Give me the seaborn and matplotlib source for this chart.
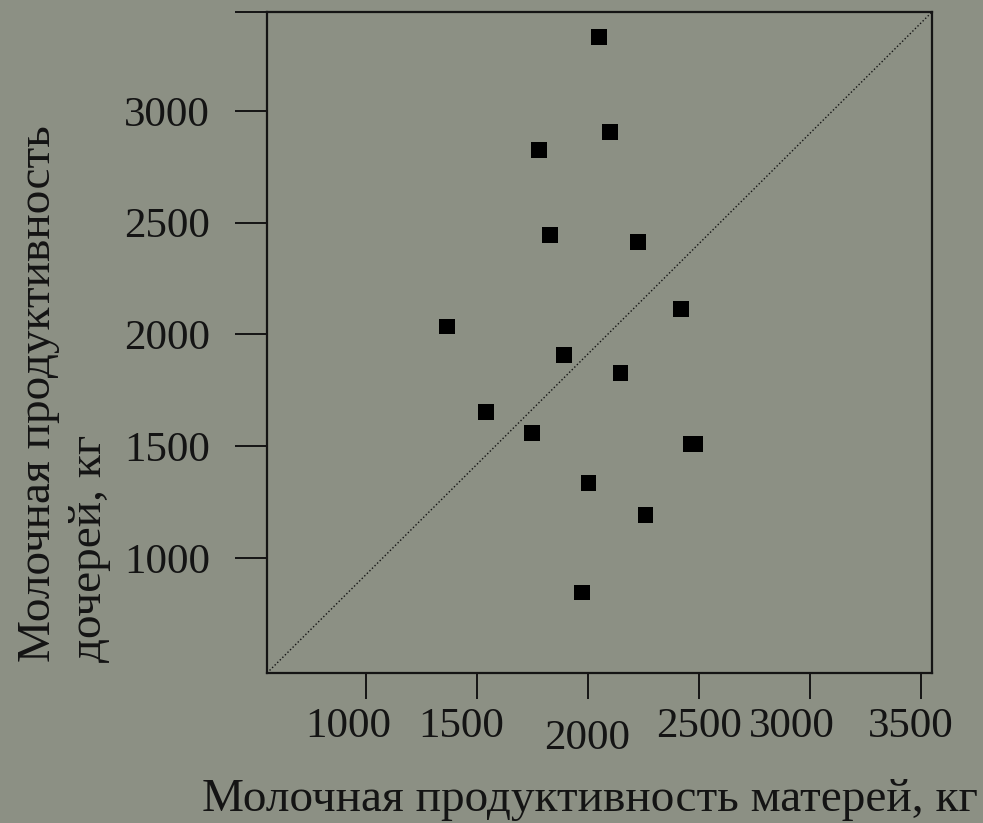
import matplotlib
matplotlib.use("Agg")
import matplotlib.pyplot as plt
import matplotlib.transforms as mtransforms
import seaborn as sns
import pandas as pd

# Data
mothers_kg = [2052, 2101, 1782, 1830, 2227, 2420, 1366, 1894, 2148, 1543, 1750,
              2466, 2484, 2005, 2260, 1974]
daughters_kg = [3332, 2906, 2825, 2445, 2414, 2114, 2035, 1907, 1828, 1653, 1558,
                1510, 1510, 1336, 1192, 845]
x_ticks = [1000, 1500, 2000, 2500, 3000, 3500]
y_ticks = [1000, 1500, 2000, 2500, 3000]
x_limits = (556, 3551)
y_limits = (485, 3443)

xlabel = "Молочная продуктивность матерей, кг"
ylabel = "Молочная продуктивность\nдочерей, кг"

bg = "#8c9084"
ink = "#141414"

sns.set_theme(style="white")
plt.rcParams['font.family'] = ['Liberation Serif', 'DejaVu Serif']

df = pd.DataFrame({"mothers": mothers_kg, "daughters": daughters_kg})

fig = plt.figure(figsize=(9.83, 8.23), dpi=100, facecolor=bg)
ax = fig.add_axes([267 / 983, 1 - 673 / 823, 665 / 983, 661 / 823])
ax.set_facecolor(bg)

# diagonal reference line spanning the axes limits
ax.plot(x_limits, y_limits, linestyle=(0, (1, 1.6)), color=ink, linewidth=1.0, zorder=1)

sns.scatterplot(data=df, x="mothers", y="daughters", marker="s", s=125,
                color="black", edgecolor="none", ax=ax, zorder=3, legend=False)

ax.set_xlim(*x_limits)
ax.set_ylim(*y_limits)

ax.set_xticks(x_ticks)
ax.set_xticklabels([str(v) for v in x_ticks])
ax.set_yticks(y_ticks + [y_limits[1]])
ax.set_yticklabels([str(v) for v in y_ticks] + [""])

for sp in ["left", "bottom", "right", "top"]:
    ax.spines[sp].set_visible(True)
    ax.spines[sp].set_color(ink)
    ax.spines[sp].set_linewidth(1.6)

ax.tick_params(axis="x", direction="out", length=19, width=1.4, color=ink,
               labelsize=31, labelcolor=ink, pad=6, bottom=True)
ax.tick_params(axis="y", direction="out", length=23, width=1.4, color=ink,
               labelsize=31, labelcolor=ink, pad=18, left=True)

# the typeset labels in the original sit slightly off their ticks
label_shift_px = {"1000": (-17, 0), "1500": (-15, 0), "2000": (0, -12),
                  "2500": (0, 0), "3000": (-18, 0), "3500": (-10, 0)}
for lab in ax.get_xticklabels():
    dx, dy = label_shift_px.get(lab.get_text(), (0, 0))
    lab.set_transform(lab.get_transform() +
                      mtransforms.ScaledTranslation(dx / 100, dy / 100, fig.dpi_scale_trans))

ax.set_xlabel("")
ax.set_ylabel("")
fig.text(590 / 983, 1 - 800 / 823, xlabel, ha="center", va="center",
         fontsize=34, color=ink)
fig.text(64 / 983, 1 - 662 / 823, ylabel, ha="center", va="bottom",
         rotation=90, multialignment="left", linespacing=1.25,
         fontsize=34, color=ink)

fig.savefig("out.png", dpi=100, facecolor=bg)
